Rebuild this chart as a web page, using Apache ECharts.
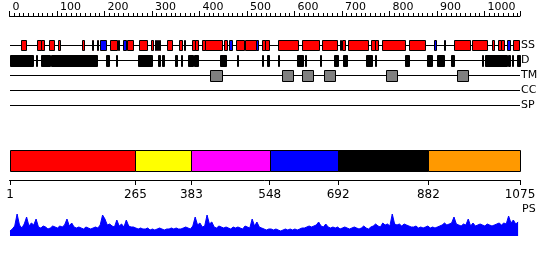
<!DOCTYPE html>
<html><head><meta charset="utf-8">
<script src="https://cdn.jsdelivr.net/npm/echarts@6.0.0/dist/echarts.min.js"></script>
<style>html,body{margin:0;padding:0;background:#fff}#c{width:550px;height:260px}</style>
</head><body><div id="c"></div><script>
// ---- data ----
const seqLength = 1075;
const trackNames = ['SS', 'D', 'TM', 'CC', 'SP'];
const ssHelix = [[24,35],[58,66],[66,73],[83,94],[102,106],[153,157],[174,175],[184,185],[212,226],[228,231],[247,260],[273,290],[298,302],[311,312],[314,317],[332,342],[357,363],[367,368],[384,390],[390,397],[405,411],[411,447],[452,458],[477,494],[496,519],[532,538],[538,546],[565,608],[616,652],[658,690],[696,699],[701,706],[713,755],[761,769],[769,776],[784,833],[841,875],[936,970],[974,1006],[1016,1020],[1029,1036],[1036,1042],[1060,1073]];
const ssStrand = [[191,203],[239,245],[306,309],[462,468],[519,523],[894,898],[915,918],[1048,1054]];
const disorder = [[1,50],[56,58],[66,85],[87,184],[203,210],[224,226],[271,300],[313,317],[321,325],[349,353],[361,363],[376,386],[388,397],[443,456],[479,481],[532,534],[542,546],[565,567],[605,618],[622,624],[654,656],[683,692],[702,711],[751,763],[770,772],[833,841],[879,890],[900,915],[930,936],[995,997],[1001,1048],[1050,1054],[1058,1060],[1069,1075]];
const transmem = [[422,447],[574,597],[616,639],[662,685],[793,816],[942,966]];
const domainStarts = [1, 265, 383, 548, 692, 882];
const domainEnds = [265, 383, 548, 692, 882, 1075];
const domainTickLabels = [1, 265, 383, 548, 692, 882, 1075];
const psStart = 1;
const psStep = 5;
const psValues = [
 5,7,10,22,11,8,12,19,10,13,
 11,17,9,8,10,9,7,8,10,9,
 8,10,9,11,17,10,13,9,8,9,
 8,7,9,8,7,8,9,8,11,21,
 17,11,12,10,9,16,10,12,9,16,
 10,9,9,8,7,8,7,7,8,6,
 7,6,7,8,7,6,7,7,8,7,
 8,7,7,8,9,8,7,10,19,11,
 13,9,10,21,12,14,9,8,10,9,
 8,9,8,7,9,8,9,8,7,10,
 9,8,17,10,14,9,8,7,6,7,
 7,6,7,6,5,6,7,6,7,6,
 7,6,7,8,8,9,10,9,10,11,
 14,10,9,12,9,8,9,8,9,7,
 8,9,8,7,8,9,8,7,8,10,
 8,7,9,10,12,10,9,13,11,12,
 10,22,12,11,12,10,12,11,10,9,
 9,10,8,9,8,9,10,8,9,8,
 9,10,11,13,11,12,13,19,12,11,
 10,12,11,17,10,13,10,11,12,11,
 10,12,11,10,11,12,13,11,13,12,
 20,13,16,12,14
];

// ---- styles ----
const FONT = 'DejaVu Sans';
const domainColors = ['#ff0000', '#ffff00', '#ff00ff', '#0000ff', '#000000', '#ff9900'];

function intervalRenderer(h, fill) {
  return function (params, api) {
    const p0 = api.coord([api.value(0), api.value(2)]);
    const p1 = api.coord([api.value(1), api.value(2)]);
    const x0 = Math.round(p0[0]);
    const x1 = Math.max(Math.round(p1[0]), x0 + 1);
    const y = Math.floor(p0[1] - h / 2) + 0.5;
    return { type: 'rect', shape: { x: x0 + 0.5, y: y, width: x1 - x0, height: h },
      style: { fill: fill, stroke: '#000', lineWidth: 1 } };
  };
}
function lineRenderer(params, api) {
  const p0 = api.coord([api.value(0), api.value(2)]);
  const p1 = api.coord([api.value(1), api.value(2)]);
  const y = Math.floor(p0[1]) + 0.5;
  return { type: 'line', shape: { x1: Math.round(p0[0]), y1: y, x2: Math.round(p1[0]), y2: y },
    style: { stroke: '#000', lineWidth: 1 } };
}
function domainRenderer(params, api) {
  const p0 = api.coord([api.value(0), 1]);
  const p1 = api.coord([api.value(1), 0]);
  const x0 = Math.round(p0[0]), x1 = Math.round(p1[0]);
  return { type: 'rect', shape: { x: x0 + 0.5, y: Math.round(p0[1]) + 0.5, width: x1 - x0, height: Math.round(p1[1]) - Math.round(p0[1]) },
    style: { fill: domainColors[params.dataIndex], stroke: '#000', lineWidth: 1 } };
}

const gridBase = { left: 9.5, right: 30, outerBoundsMode: 'none', containLabel: false };
const hiddenX = (gi) => ({ gridIndex: gi, type: 'value', min: 0, max: seqLength, show: false });
const plain = (v) => String(v);

const option = {
  animation: false,
  backgroundColor: '#fff',
  grid: [
    Object.assign({ top: 16, height: 1 }, gridBase),
    Object.assign({ top: 150, height: 21 }, gridBase),
    Object.assign({ top: 38, height: 75 }, gridBase),
    Object.assign({ top: 211, height: 25 }, gridBase)
  ],
  xAxis: [
    { gridIndex: 0, type: 'value', position: 'top', min: 0, max: seqLength, interval: 100,
      axisLine: { show: true, onZero: false, lineStyle: { color: '#000', width: 1 } },
      axisTick: { show: true, length: 5, lineStyle: { color: '#000' } },
      minorTick: { show: true, splitNumber: 10, length: 3, lineStyle: { color: '#000' } },
      axisLabel: { align: 'left', margin: 3, padding: [0, 0, 0, 3], fontSize: 11, color: '#000', fontFamily: FONT, showMaxLabel: false, formatter: plain },
      splitLine: { show: false }, minorSplitLine: { show: false } },
    { gridIndex: 1, type: 'value', position: 'bottom', offset: 9, min: 0, max: seqLength,
      axisLine: { show: true, onZero: false, lineStyle: { color: '#000', width: 1 } },
      axisTick: { show: true, length: 5, customValues: domainTickLabels, lineStyle: { color: '#000' } },
      axisLabel: { margin: 9, fontSize: 12, color: '#000', fontFamily: FONT, customValues: domainTickLabels, formatter: plain },
      splitLine: { show: false } },
    hiddenX(2),
    hiddenX(3)
  ],
  yAxis: [
    { gridIndex: 0, type: 'value', min: 0, max: 1, show: false },
    { gridIndex: 1, type: 'value', min: 0, max: 1, show: false },
    { gridIndex: 2, type: 'category', data: trackNames, inverse: true, position: 'right',
      axisLine: { show: false }, axisTick: { show: false }, splitLine: { show: false },
      axisLabel: { margin: 1, fontSize: 11, color: '#000', fontFamily: FONT } },
    { gridIndex: 3, type: 'value', min: 0, max: 25, show: false }
  ],
  graphic: [
    { type: 'text', left: 522, top: 204, style: { text: 'PS', font: '11px "DejaVu Sans"', fill: '#000' } }
  ],
  series: [
    { type: 'custom', xAxisIndex: 2, yAxisIndex: 2, renderItem: lineRenderer, encode: { x: [0, 1], y: 2 },
      data: trackNames.map((t, i) => [1, seqLength, i]) },
    { type: 'custom', xAxisIndex: 2, yAxisIndex: 2, renderItem: intervalRenderer(10, '#ff0000'), encode: { x: [0, 1], y: 2 },
      data: ssHelix.map(d => [d[0], d[1], 0]) },
    { type: 'custom', xAxisIndex: 2, yAxisIndex: 2, renderItem: intervalRenderer(10, '#0000ff'), encode: { x: [0, 1], y: 2 },
      data: ssStrand.map(d => [d[0], d[1], 0]) },
    { type: 'custom', xAxisIndex: 2, yAxisIndex: 2, renderItem: intervalRenderer(11, '#000000'), encode: { x: [0, 1], y: 2 },
      data: disorder.map(d => [d[0], d[1], 1]) },
    { type: 'custom', xAxisIndex: 2, yAxisIndex: 2, renderItem: intervalRenderer(11, '#808080'), encode: { x: [0, 1], y: 2 },
      data: transmem.map(d => [d[0], d[1], 2]) },
    { type: 'custom', xAxisIndex: 1, yAxisIndex: 1, renderItem: domainRenderer, encode: { x: [0, 1] },
      data: domainStarts.map((s, i) => [s, domainEnds[i]]) },
    { type: 'line', xAxisIndex: 3, yAxisIndex: 3, showSymbol: false, symbol: 'none',
      lineStyle: { color: '#0000ff', width: 1 }, areaStyle: { color: '#0000ff', opacity: 1 },
      data: psValues.map((v, i) => [psStart + i * psStep, v]) }
  ]
};
const chart = echarts.init(document.getElementById('c'), null, { renderer: 'canvas' });
chart.setOption(option);
</script></body></html>
